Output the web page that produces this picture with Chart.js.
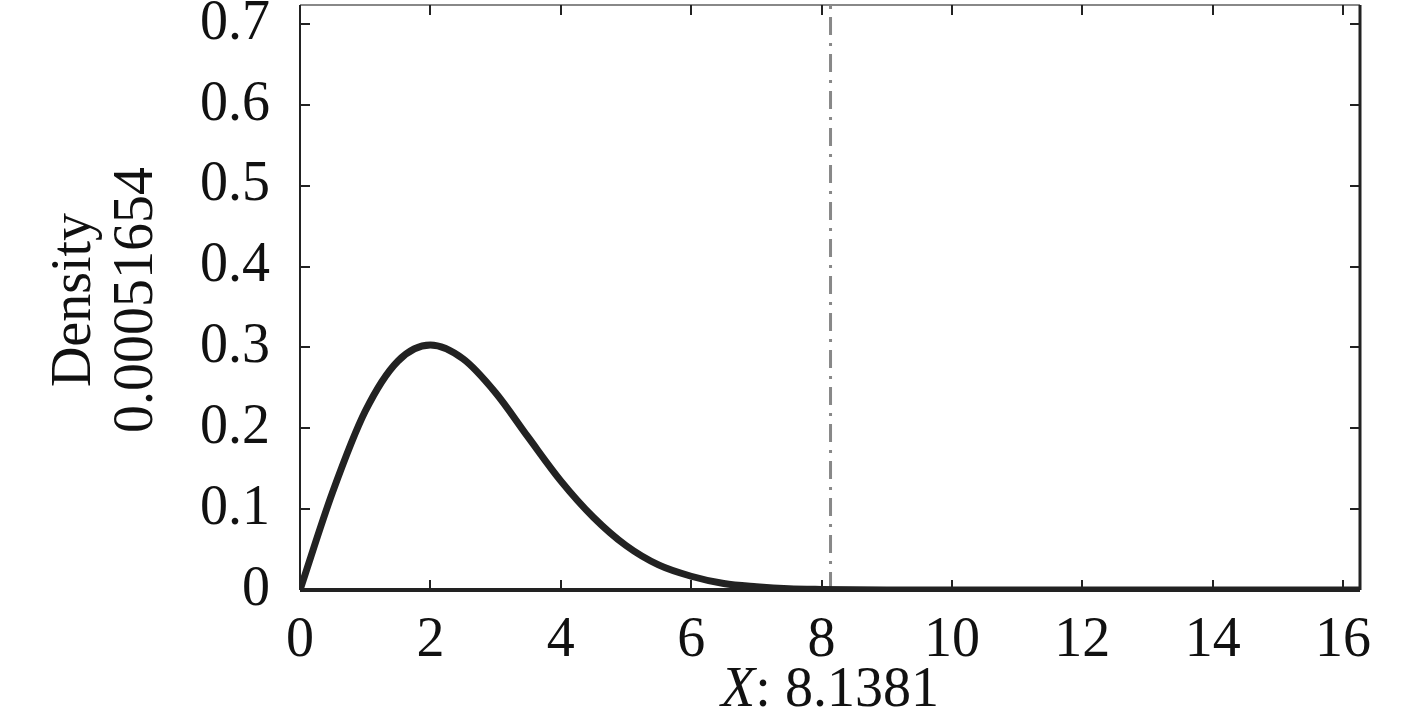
<!DOCTYPE html>
<html>
<head>
<meta charset="utf-8">
<script src="https://cdn.jsdelivr.net/npm/chart.js@4"></script>
<style>
  html, body { margin: 0; padding: 0; background: #fff; }
  #wrap { width: 1417px; height: 711px; }
</style>
</head>
<body>
<div id="wrap"><canvas id="densityChart" width="1417" height="711"></canvas></div>
<script>
// values
const xValues = [0, 0.5, 1, 1.5, 2, 2.5, 3, 3.5, 4, 4.5, 5, 5.5, 6, 6.5, 7, 7.5, 8, 9, 10, 12, 14, 16.26];
const densityValues = [0, 0.121, 0.221, 0.283, 0.303, 0.286, 0.244, 0.189, 0.135, 0.090, 0.055, 0.031, 0.017, 0.008, 0.004, 0.0015, 0.0007, 0.0001, 0, 0, 0, 0];
const markerX = 8.1381;
const xTicks = [0, 2, 4, 6, 8, 10, 12, 14, 16];
const yTicks = [0, 0.1, 0.2, 0.3, 0.4, 0.5, 0.6, 0.7];
const xMax = 16.26;
const yMax = 0.7235;
const yTitleLines = ["Density", "0.00051654"];
const xTitleName = "X";
const xTitleValue = ": 8.1381";

const serif = "'Liberation Serif', 'Times New Roman', Times, serif";
const fontSize = 56;

// inward tick marks + frame + axis titles
const framePlugin = {
    id: "frame",
    afterDraw(chart) {
        const { ctx, chartArea: a, scales } = chart;
        const xs = scales.x, ys = scales.y;
        ctx.save();
        // frame
        ctx.strokeStyle = "#888";
        ctx.lineWidth = 2;
        ctx.beginPath(); ctx.moveTo(a.left, a.top); ctx.lineTo(a.right, a.top); ctx.stroke();
        ctx.strokeStyle = "#222";
        ctx.lineWidth = 2;
        ctx.beginPath(); ctx.moveTo(a.left, a.top); ctx.lineTo(a.left, a.bottom); ctx.stroke();
        ctx.lineWidth = 3;
        ctx.beginPath(); ctx.moveTo(a.right, a.top); ctx.lineTo(a.right, a.bottom); ctx.stroke();
        ctx.lineWidth = 4;
        ctx.beginPath(); ctx.moveTo(a.left, a.bottom); ctx.lineTo(a.right, a.bottom); ctx.stroke();

        // ticks
        ctx.lineWidth = 2;
        ctx.strokeStyle = "#222";
        xTicks.forEach(v => {
            const px = Math.round(xs.getPixelForValue(v));
            ctx.beginPath(); ctx.moveTo(px, a.bottom); ctx.lineTo(px, a.bottom - 10); ctx.stroke();
            ctx.beginPath(); ctx.moveTo(px, a.top); ctx.lineTo(px, a.top + 10); ctx.stroke();
        });
        yTicks.forEach(v => {
            const py = Math.round(ys.getPixelForValue(v));
            ctx.beginPath(); ctx.moveTo(a.left, py); ctx.lineTo(a.left + 10, py); ctx.stroke();
            ctx.beginPath(); ctx.moveTo(a.right, py); ctx.lineTo(a.right - 10, py); ctx.stroke();
        });

        // y title (two rotated lines)
        ctx.fillStyle = "#111";
        ctx.font = fontSize + "px " + serif;
        ctx.textAlign = "center";
        ctx.textBaseline = "middle";
        ctx.translate(0, 300);
        ctx.rotate(-Math.PI / 2);
        ctx.fillText(yTitleLines[0], 0, 75);
        ctx.fillText(yTitleLines[1], 0, 137);
        ctx.setTransform(1, 0, 0, 1, 0, 0);

        // x title with italic name
        const italic = "italic " + fontSize + "px " + serif;
        const upright = fontSize + "px " + serif;
        ctx.font = italic;
        const w1 = ctx.measureText(xTitleName).width;
        ctx.font = upright;
        const w2 = ctx.measureText(xTitleValue).width;
        const startX = 830 - (w1 + w2) / 2;
        ctx.textAlign = "left";
        ctx.textBaseline = "alphabetic";
        ctx.font = italic;
        ctx.fillText(xTitleName, startX, 706);
        ctx.font = upright;
        ctx.fillText(xTitleValue, startX + w1, 706);
        ctx.restore();
    }
};

const points = xValues.map((x, i) => ({ x: x, y: densityValues[i] }));

new Chart(document.getElementById("densityChart"), {
    type: "line",
    data: {
        datasets: [
            {
                data: points,
                borderColor: "#222",
                borderWidth: 7,
                pointRadius: 0,
                cubicInterpolationMode: "monotone",
                fill: false
            },
            {
                data: [{ x: markerX, y: 0 }, { x: markerX, y: yMax }],
                borderColor: "#888",
                borderWidth: 3,
                borderDash: [18, 8, 3, 8],
                pointRadius: 0,
                fill: false
            }
        ]
    },
    options: {
        responsive: false,
        animation: false,
        layout: { padding: { left: 0, top: 5, right: 57, bottom: 0 } },
        plugins: { legend: { display: false }, tooltip: { enabled: false } },
        scales: {
            x: {
                type: "linear",
                min: 0,
                max: xMax,
                afterFit: s => { s.height = 121; s.paddingLeft = 0; s.paddingRight = 0; },
                afterBuildTicks: s => { s.ticks = xTicks.map(v => ({ value: v })); },
                grid: { display: false },
                border: { display: false },
                ticks: {
                    color: "#111",
                    padding: 10,
                    maxRotation: 0,
                    autoSkip: false,
                    font: { family: serif, size: fontSize }
                }
            },
            y: {
                min: 0,
                max: yMax,
                afterFit: s => { s.width = 300; s.paddingTop = 0; s.paddingBottom = 0; },
                afterBuildTicks: s => { s.ticks = yTicks.map(v => ({ value: v })); },
                grid: { display: false },
                border: { display: false },
                ticks: {
                    color: "#111",
                    padding: 22,
                    autoSkip: false,
                    font: { family: serif, size: fontSize },
                    callback: v => (v === 0 ? "0" : v.toFixed(1))
                }
            }
        }
    },
    plugins: [framePlugin]
});
</script>
</body>
</html>
